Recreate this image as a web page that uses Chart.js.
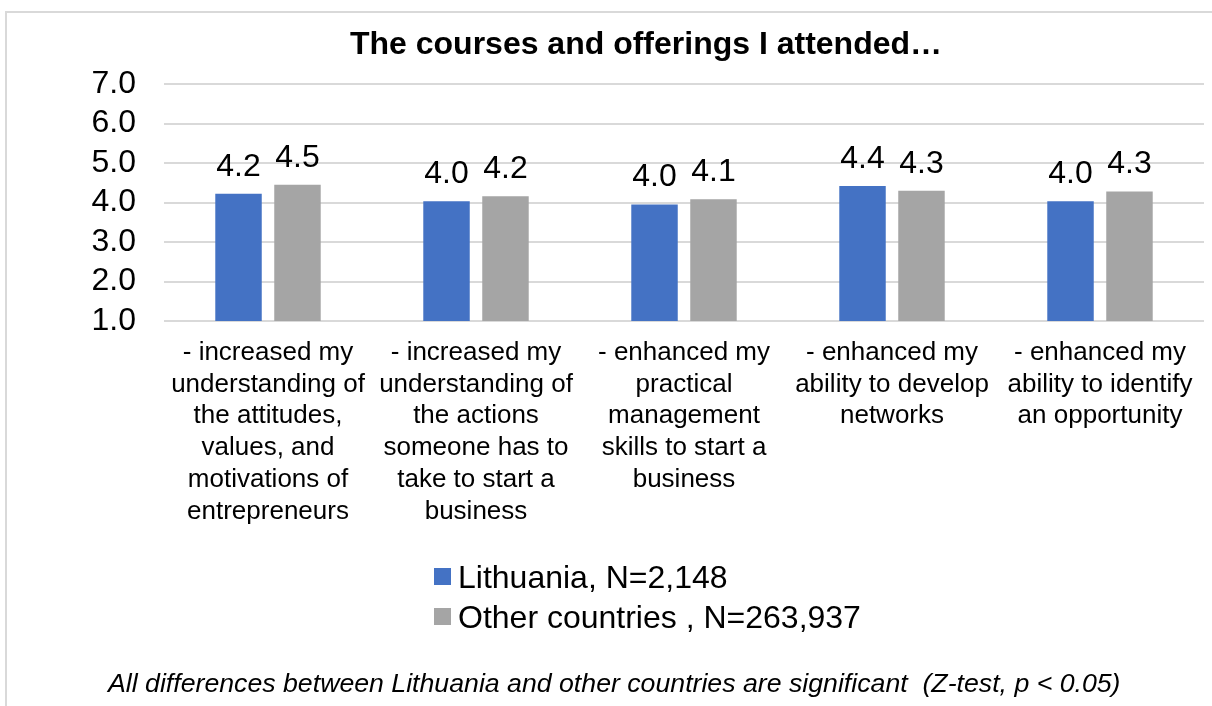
<!DOCTYPE html>
<html>
<head>
<meta charset="utf-8">
<script src="https://cdn.jsdelivr.net/npm/chart.js@4.4.1/dist/chart.umd.min.js"></script>
<style>
  html, body { margin: 0; padding: 0; background: #fff; overflow: hidden; }
  #wrap { position: relative; width: 1212px; height: 706px; overflow: hidden; font-family: "Liberation Sans", Arial, sans-serif; }
  #frame { position: absolute; left: 5px; top: 11px; width: 1400px; height: 900px; border: 2px solid #d9d9d9; box-sizing: border-box; }
  canvas { position: absolute; left: 0; top: 0; }
  .leg { position: absolute; left: 434px; font-size: 32px; line-height: 40px; color: #000; white-space: nowrap; }
  .leg .sw { position: absolute; left: 0; width: 17px; height: 17px; }
  .leg .tx { position: absolute; left: 24px; top: 0; }
  #note { position: absolute; left: 108px; top: 667px; font-size: 26.7px; line-height: 32px; font-style: italic; color: #000; white-space: nowrap; }
</style>
</head>
<body>
<div id="wrap">
  <div id="frame"></div>
  <canvas id="c" width="1212" height="706"></canvas>
  <div id="legend"></div>
  <div id="note"></div>
</div>
<script>
const titleText = "The courses and offerings I attended\u2026";
const categories = [
  ["- increased my", "understanding of", "the attitudes,", "values, and", "motivations of", "entrepreneurs"],
  ["- increased my", "understanding of", "the actions", "someone has to", "take to start a", "business"],
  ["- enhanced my", "practical", "management", "skills to start a", "business"],
  ["- enhanced my", "ability to develop", "networks"],
  ["- enhanced my", "ability to identify", "an opportunity"]
];
const seriesNames = ["Lithuania, N=2,148", "Other countries , N=263,937"];
const lithuania = [4.22, 4.03, 3.95, 4.42, 4.03];
const otherCountries = [4.45, 4.16, 4.08, 4.30, 4.28];
const seriesColors = ["#4472C4", "#A5A5A5"];
const yTicks = [1, 2, 3, 4, 5, 6, 7];
const footnote = "All differences between Lithuania and other countries are significant\u00a0\u00a0(Z-test, p < 0.05)";

const FONT = "'Liberation Sans', Arial, sans-serif";

const valueLabels = {
  id: 'valueLabels',
  afterDatasetsDraw(chart) {
    const ctx = chart.ctx;
    ctx.save();
    ctx.font = "32px " + FONT;
    ctx.fillStyle = "#000";
    ctx.textAlign = "center";
    ctx.textBaseline = "alphabetic";
    chart.data.datasets.forEach((ds, i) => {
      const meta = chart.getDatasetMeta(i);
      meta.data.forEach((el, j) => {
        ctx.fillText(ds.data[j].toFixed(1), el.x, el.y - 18);
      });
    });
    ctx.restore();
  }
};

new Chart(document.getElementById('c'), {
  type: 'bar',
  data: {
    labels: categories,
    datasets: [
      { label: seriesNames[0], data: lithuania, backgroundColor: seriesColors[0], categoryPercentage: 0.567, barPercentage: 0.788 },
      { label: seriesNames[1], data: otherCountries, backgroundColor: seriesColors[1], categoryPercentage: 0.567, barPercentage: 0.788 }
    ]
  },
  options: {
    responsive: false,
    animation: false,
    layout: { padding: { left: 88, right: 8, top: 12, bottom: 0 } },
    plugins: {
      legend: { display: false },
      tooltip: { enabled: false },
      title: {
        display: true,
        text: titleText,
        color: "#000",
        font: { family: FONT, size: 32, weight: 'bold', lineHeight: 1.2 },
        padding: { top: 14.3, bottom: 19.3 }
      }
    },
    scales: {
      x: {
        grid: { display: false, drawTicks: false },
        border: { display: false },
        ticks: {
          color: "#000",
          font: { family: FONT, size: 26, lineHeight: 1.22 },
          padding: 16,
          maxRotation: 0,
          minRotation: 0,
          autoSkip: false
        },
        afterFit(scale) { scale.height = 385; }
      },
      y: {
        min: yTicks[0],
        max: yTicks[yTicks.length - 1],
        afterBuildTicks(scale) { scale.ticks = yTicks.map(v => ({ value: v })); },
        grid: { color: "#d9d9d9", lineWidth: 2, drawTicks: false },
        border: { display: false },
        ticks: {
          color: "#000",
          font: { family: FONT, size: 32, lineHeight: 1 },
          padding: 28,
          autoSkip: false,
          callback: v => Number(v).toFixed(1)
        },
        afterFit(scale) { scale.width = 76; }
      }
    }
  },
  plugins: [valueLabels]
});

// Legend (one entry per row, left-aligned)
const legendTops = [557, 597];
const legendEl = document.getElementById('legend');
seriesNames.forEach((name, i) => {
  const row = document.createElement('div');
  row.className = 'leg';
  row.style.top = legendTops[i] + 'px';
  const sw = document.createElement('span');
  sw.className = 'sw';
  sw.style.background = seriesColors[i];
  sw.style.top = '11px';
  const tx = document.createElement('span');
  tx.className = 'tx';
  tx.textContent = name;
  row.appendChild(sw);
  row.appendChild(tx);
  legendEl.appendChild(row);
});
document.getElementById('note').textContent = footnote;
</script>
</body>
</html>
